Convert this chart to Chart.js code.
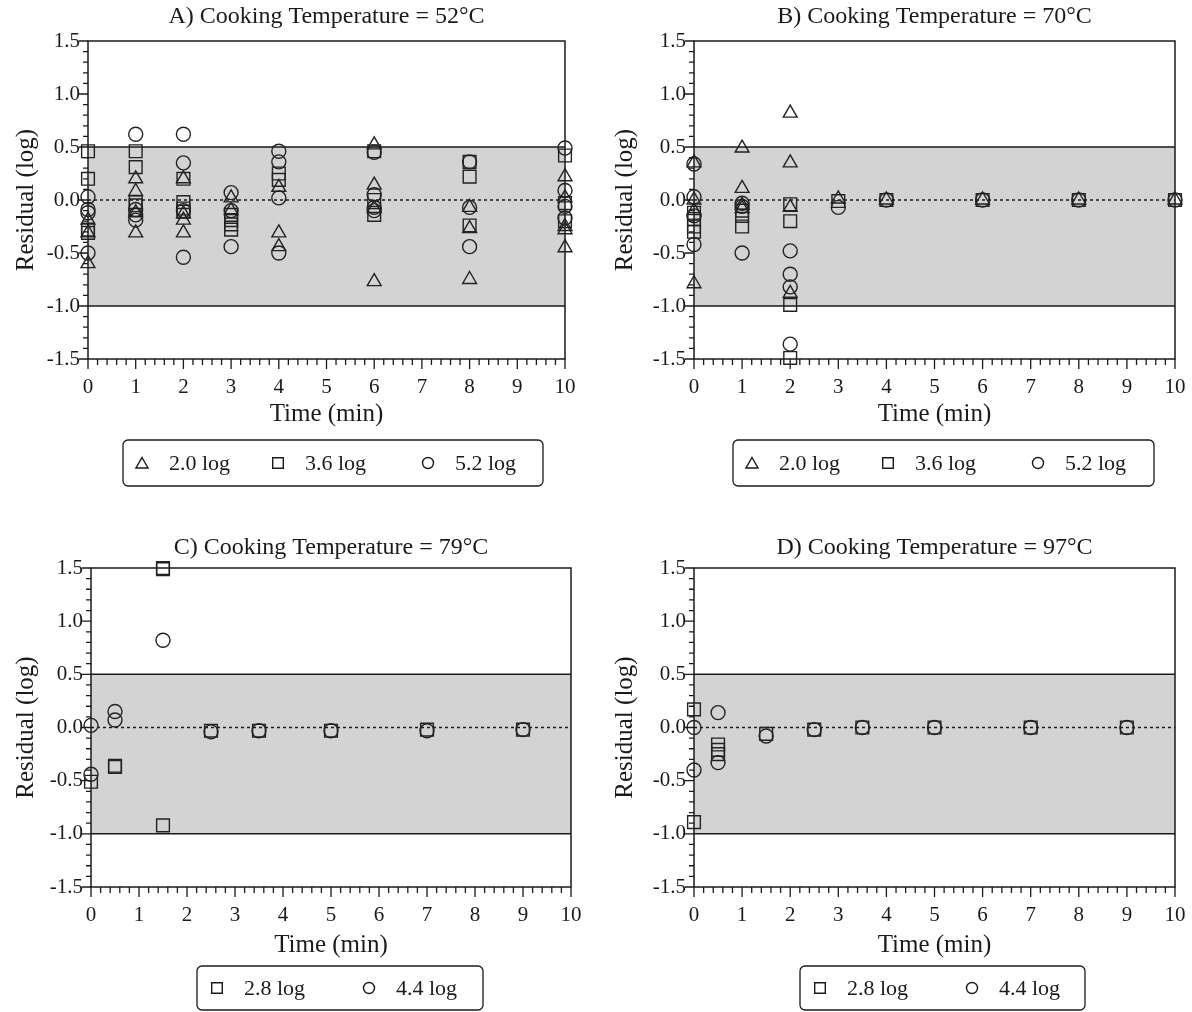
<!DOCTYPE html>
<html>
<head>
<meta charset="utf-8">
<script src="https://cdn.jsdelivr.net/npm/chart.js@4.4.0/dist/chart.umd.min.js"></script>
<style>
    body { margin: 0; background: #fff; }
    #wrap { position: relative; width: 1192px; height: 1012px; }
    .panel { position: absolute; width: 596px; height: 506px; }
</style>
</head>
<body>
<div id="wrap">
    <div class="panel" style="left:0;top:0"><canvas id="cA" width="596" height="506"></canvas></div>
    <div class="panel" style="left:596px;top:0"><canvas id="cB" width="596" height="506"></canvas></div>
    <div class="panel" style="left:0;top:506px"><canvas id="cC" width="596" height="506"></canvas></div>
    <div class="panel" style="left:596px;top:506px"><canvas id="cD" width="596" height="506"></canvas></div>
</div>
<script>
// ---- data (residuals, log) grouped by sampling time ----
var timesAB = [0, 1, 2, 3, 4, 6, 8, 10];
var timesCD = [0, 0.5, 1.5, 2.5, 3.5, 5, 7, 9];

var labelsAB = ["2.0 log", "3.6 log", "5.2 log"];
var labelsCD = ["2.8 log", "4.4 log"];

var triA = [[-0.19, -0.31, -0.6], [0.2, 0.08, -0.12, -0.31], [0.2, -0.13, -0.19, -0.31], [0.02, -0.1],
    [0.12, -0.31, -0.44], [0.52, 0.14, -0.08, -0.77], [-0.07, -0.27, -0.75], [0.22, 0.02, -0.25, -0.28, -0.45]];
var sqA = [[0.46, 0.2, -0.28, -0.31], [0.46, 0.31, -0.02, -0.05], [0.2, -0.02, -0.08, -0.11], [-0.14, -0.19, -0.23, -0.28],
    [0.25, 0.19], [0.46, 0.0, -0.14], [0.36, 0.22, -0.24], [0.42, -0.03, -0.2]];
var circA = [[0.03, -0.09, -0.12, -0.5], [0.62, -0.09, -0.14, -0.19], [0.62, 0.35, -0.1, -0.54], [0.07, -0.1, -0.44],
    [0.46, 0.36, 0.02, -0.5], [0.45, 0.05, -0.07, -0.1], [0.36, -0.07, -0.44], [0.49, 0.09, -0.06, -0.17]];

var triB = [[0.35, 0.0, -0.1, -0.79], [0.49, 0.11, -0.05, -0.08], [0.82, 0.35, -0.07, -0.88], [0.01], [0], [0], [0], [0]];
var sqB = [[-0.12, -0.18, -0.25, -0.3], [-0.1, -0.15, -0.25], [-0.04, -0.2, -0.99, -1.49], [-0.01], [0], [0], [0], [0]];
var circB = [[0.34, 0.03, -0.15, -0.42], [-0.03, -0.06, -0.5], [-0.48, -0.7, -0.82, -1.36], [-0.07], [0], [0], [0], [0]];

var sqC = [[-0.51], [-0.36, -0.37], [1.5, 1.49, -0.92], [-0.03], [-0.03], [-0.03], [-0.02], [-0.02]];
var circC = [[0.02, -0.44], [0.15, 0.07], [0.82], [-0.04], [-0.03], [-0.03], [-0.03], [-0.02]];

var sqD = [[0.17, -0.89], [-0.16, -0.21, -0.25], [-0.06], [-0.02], [0], [0], [0], [0]];
var circD = [[0.0, -0.4], [0.14, -0.33], [-0.08], [-0.02], [0], [0], [0], [0]];

var bandLimits = [-1.0, 0.5];
var yRange = [-1.5, 1.5];
var xRange = [0, 10];

var FONT = '"Liberation Serif", "Times New Roman", serif';
var INK = '#1a1a1a';

function toPoints(times, groups) {
    var pts = [];
    groups.forEach(function (g, i) {
        g.forEach(function (v) { pts.push({ x: times[i], y: v }); });
    });
    return pts;
}

function drawMarker(ctx, style, x, y, r) {
    ctx.beginPath();
    if (style == 'triangle') {
        ctx.moveTo(x, y - r);
        ctx.lineTo(x + r * 0.866, y + r * 0.5);
        ctx.lineTo(x - r * 0.866, y + r * 0.5);
        ctx.closePath();
    } else if (style == 'rect') {
        ctx.rect(x - r * 0.707, y - r * 0.707, r * 1.414, r * 1.414);
    } else {
        ctx.arc(x, y, r, 0, Math.PI * 2);
    }
    ctx.stroke();
}

var framePlugin = {
    id: 'frame',
    beforeDatasetsDraw: function (chart) {
        var ctx = chart.ctx, a = chart.chartArea, ys = chart.scales.y;
        var yHi = ys.getPixelForValue(bandLimits[1]);
        var yLo = ys.getPixelForValue(bandLimits[0]);
        var y0 = ys.getPixelForValue(0);
        ctx.save();
        ctx.fillStyle = '#d3d3d3';
        ctx.fillRect(a.left, yHi, a.right - a.left, yLo - yHi);
        ctx.strokeStyle = INK;
        ctx.lineWidth = 1.5;
        ctx.beginPath();
        ctx.moveTo(a.left, yHi); ctx.lineTo(a.right, yHi);
        ctx.moveTo(a.left, yLo); ctx.lineTo(a.right, yLo);
        ctx.stroke();
        ctx.setLineDash([3, 3]);
        ctx.beginPath();
        ctx.moveTo(a.left, y0); ctx.lineTo(a.right, y0);
        ctx.stroke();
        ctx.setLineDash([]);
        ctx.strokeRect(a.left, a.top, a.right - a.left, a.bottom - a.top);
        ctx.restore();
    },
    afterDraw: function (chart, args, opts) {
        var ctx = chart.ctx, a = chart.chartArea;
        var xs = chart.scales.x, ys = chart.scales.y;
        ctx.save();
        ctx.strokeStyle = INK;
        ctx.lineWidth = 1.3;
        ctx.beginPath();
        ys.ticks.forEach(function (t) {
            var p = ys.getPixelForValue(t.value);
            var major = Math.abs(t.value * 2 - Math.round(t.value * 2)) < 1e-6;
            ctx.moveTo(a.left - (major ? 9 : 5), p); ctx.lineTo(a.left, p);
        });
        xs.ticks.forEach(function (t) {
            var p = xs.getPixelForValue(t.value);
            var major = Math.abs(t.value - Math.round(t.value)) < 1e-6;
            ctx.moveTo(p, a.bottom); ctx.lineTo(p, a.bottom + (major ? 10 : 6));
        });
        ctx.stroke();

        // title
        ctx.fillStyle = INK;
        ctx.font = '24px ' + FONT;
        ctx.textAlign = 'center';
        ctx.textBaseline = 'middle';
        ctx.fillText(opts.title, (a.left + a.right) / 2, a.top - opts.titleGap);

        // legend box
        var L = opts.legend;
        ctx.lineWidth = 1.3;
        ctx.beginPath();
        ctx.roundRect(L.l, L.t, L.r - L.l, L.b - L.t, 5);
        ctx.stroke();
        var cy = (L.t + L.b) / 2;
        ctx.font = '22px ' + FONT;
        ctx.textAlign = 'left';
        chart.data.datasets.forEach(function (ds, i) {
            ctx.lineWidth = 1.4;
            var r = ds.pointStyle == 'rect' ? 7.5 : (ds.pointStyle == 'triangle' ? 7 : 5.5);
            drawMarker(ctx, ds.pointStyle, L.items[i], cy + (ds.pointStyle == 'triangle' ? 1.5 : 0), r);
            ctx.fillText(ds.label, L.items[i] + 27, cy + 1);
        });
        ctx.restore();
    }
};

var markerRadius = { triangle: 8, rect: 9, circle: 7 };

function buildChart(p) {
    var datasets = p.series.map(function (s) {
        return {
            label: s.label,
            data: toPoints(p.times, s.values),
            pointStyle: s.style,
            pointRadius: markerRadius[s.style],
            pointHoverRadius: markerRadius[s.style],
            pointBorderWidth: 1.4,
            borderColor: '#222',
            backgroundColor: 'rgba(0,0,0,0)',
            showLine: false,
            clip: false
        };
    });
    var W = 596, H = 506;
    return new Chart(document.getElementById(p.id), {
        type: 'scatter',
        data: { datasets: datasets },
        plugins: [framePlugin],
        options: {
            responsive: false,
            animation: false,
            layout: {
                padding: { left: 0, top: p.box.t, right: W - p.box.r, bottom: H - p.box.b - p.xh }
            },
            plugins: {
                legend: { display: false },
                tooltip: { enabled: false },
                frame: { title: p.title, titleGap: p.titleGap, legend: p.legend }
            },
            scales: {
                x: {
                    type: 'linear',
                    min: xRange[0], max: xRange[1],
                    grid: { display: false, drawTicks: false },
                    border: { display: false },
                    ticks: {
                        stepSize: 0.2, autoSkip: false, maxRotation: 0, padding: 16,
                        color: INK, font: { family: FONT, size: 21 },
                        callback: function (v) {
                            return Math.abs(v - Math.round(v)) < 1e-6 ? String(Math.round(v)) : '';
                        }
                    },
                    title: { display: true, text: 'Time (min)', color: INK, padding: 0, font: { family: FONT, size: 25 } },
                    afterFit: function (s) {
                        s.height = p.xh;
                        s.paddingLeft = 0; s.paddingRight = 0;
                    }
                },
                y: {
                    type: 'linear',
                    min: yRange[0], max: yRange[1],
                    grid: { display: false, drawTicks: false },
                    border: { display: false },
                    ticks: {
                        stepSize: 0.1, autoSkip: false, padding: 8,
                        color: INK, font: { family: FONT, size: 21 },
                        callback: function (v) {
                            return Math.abs(v * 2 - Math.round(v * 2)) < 1e-6 ? (Math.round(v * 2) / 2).toFixed(1) : '';
                        }
                    },
                    title: { display: true, text: 'Residual (log)', color: INK, padding: { top: p.ytPad, bottom: 0 }, font: { family: FONT, size: 25 } },
                    afterFit: function (s) {
                        s.width = p.box.l;
                        s.paddingTop = 0; s.paddingBottom = 0;
                    }
                }
            }
        }
    });
}

var panels = [
    {
        id: 'cA', title: 'A) Cooking Temperature = 52°C', times: timesAB,
        series: [{ label: labelsAB[0], style: 'triangle', values: triA },
                 { label: labelsAB[1], style: 'rect', values: sqA },
                 { label: labelsAB[2], style: 'circle', values: circA }],
        box: { l: 88, r: 565, t: 41, b: 359 }, xh: 70, ytPad: 11, titleGap: 24,
        legend: { l: 123, r: 543, t: 440, b: 486, items: [142, 278, 428] }
    },
    {
        id: 'cB', title: 'B) Cooking Temperature = 70°C', times: timesAB,
        series: [{ label: labelsAB[0], style: 'triangle', values: triB },
                 { label: labelsAB[1], style: 'rect', values: sqB },
                 { label: labelsAB[2], style: 'circle', values: circB }],
        box: { l: 98, r: 579, t: 41, b: 359 }, xh: 70, ytPad: 14, titleGap: 24,
        legend: { l: 137, r: 558, t: 440, b: 486, items: [156, 292, 442] }
    },
    {
        id: 'cC', title: 'C) Cooking Temperature = 79°C', times: timesCD,
        series: [{ label: labelsCD[0], style: 'rect', values: sqC },
                 { label: labelsCD[1], style: 'circle', values: circC }],
        box: { l: 91, r: 571, t: 62, b: 381 }, xh: 73, ytPad: 11, titleGap: 20,
        legend: { l: 197, r: 483, t: 460, b: 504, items: [217, 369] }
    },
    {
        id: 'cD', title: 'D) Cooking Temperature = 97°C', times: timesCD,
        series: [{ label: labelsCD[0], style: 'rect', values: sqD },
                 { label: labelsCD[1], style: 'circle', values: circD }],
        box: { l: 98, r: 579, t: 62, b: 381 }, xh: 73, ytPad: 14, titleGap: 20,
        legend: { l: 204, r: 489, t: 460, b: 504, items: [224, 376] }
    }
];

panels.forEach(buildChart);
</script>
</body>
</html>
